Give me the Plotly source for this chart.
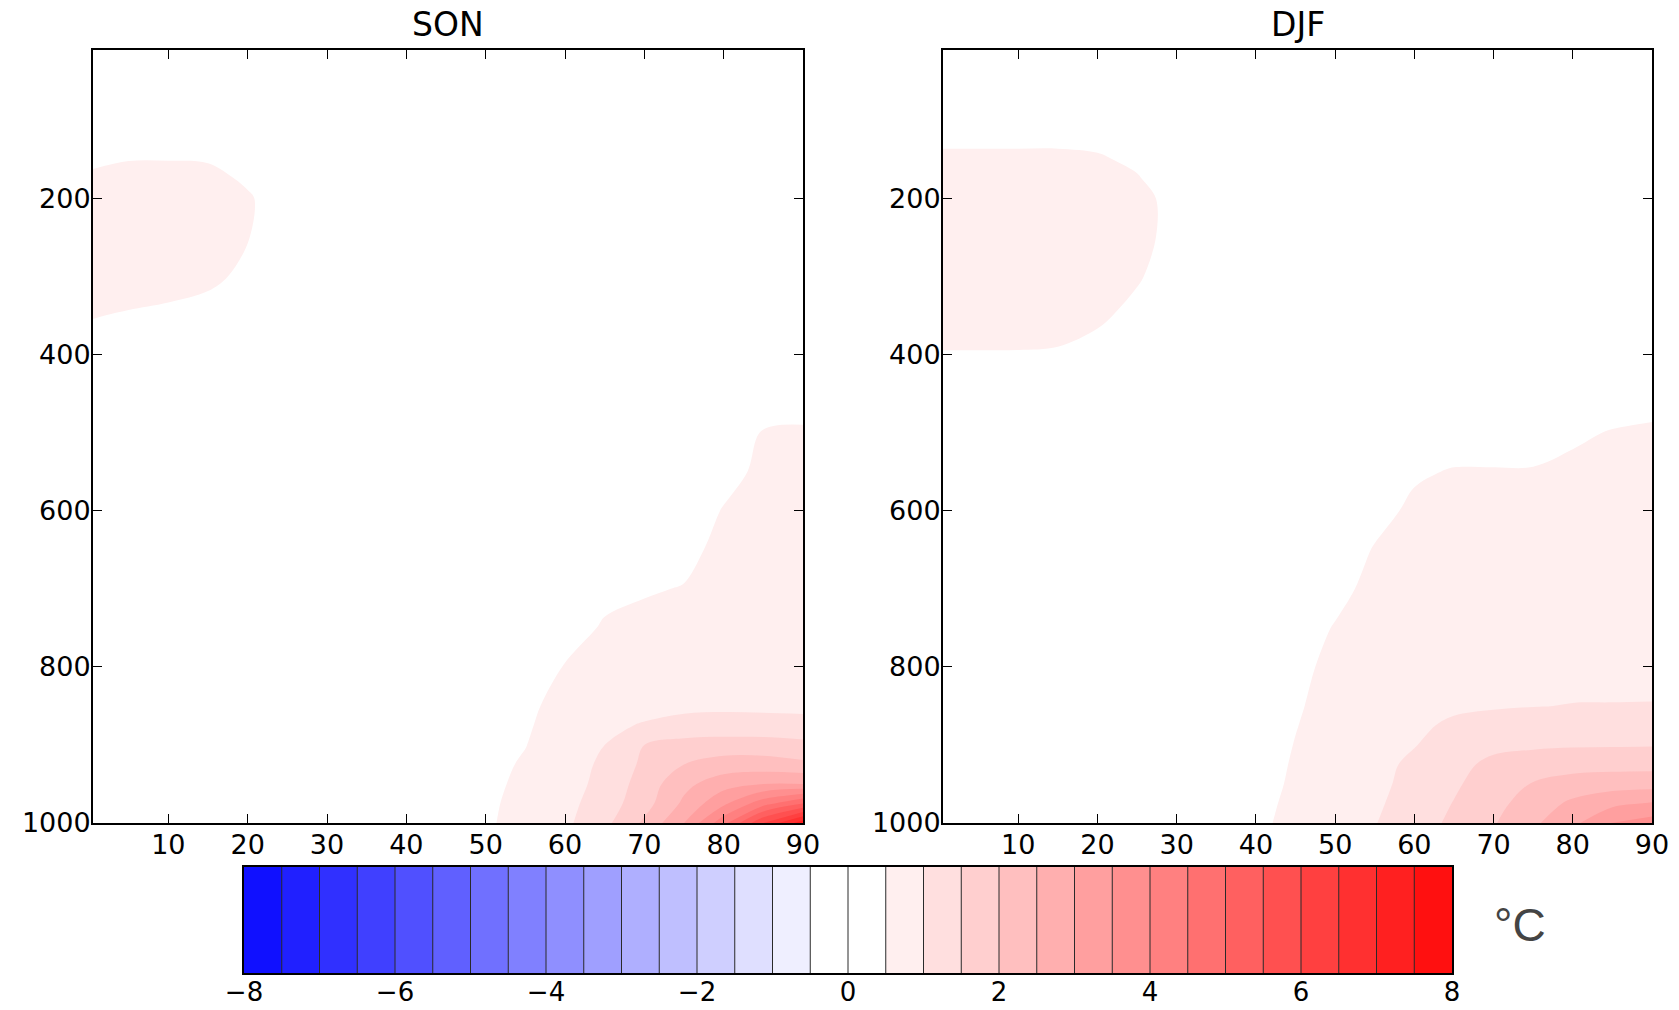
import plotly.graph_objects as go

# ---------------- data ----------------
LAT = [0.5, 5, 10, 15, 20, 25, 30, 35, 40, 45, 50, 55, 60, 65, 70, 75, 80, 85, 90]
PRES = [10, 50, 100, 125, 150, 175, 200, 250, 300, 350, 400, 450, 500, 550,
        600, 650, 700, 750, 800, 850, 875, 900, 925, 950, 975, 1000]

SON_T = [
    [0.10,0.10,0.10,0.10,0.10,0.10,0.10,0.10,0.10,0.10,0.10,0.10,0.10,0.10,0.10,0.10,0.10,0.10,0.10],
    [0.20,0.20,0.20,0.20,0.20,0.18,0.15,0.12,0.10,0.10,0.10,0.10,0.12,0.12,0.14,0.15,0.15,0.15,0.15],
    [0.30,0.30,0.32,0.30,0.28,0.25,0.20,0.15,0.12,0.10,0.10,0.12,0.14,0.15,0.16,0.18,0.20,0.20,0.20],
    [0.38,0.42,0.44,0.42,0.32,0.28,0.20,0.15,0.12,0.10,0.10,0.12,0.14,0.15,0.16,0.18,0.20,0.20,0.20],
    [0.45,0.49,0.49,0.48,0.35,0.25,0.20,0.15,0.12,0.10,0.10,0.12,0.14,0.15,0.16,0.18,0.20,0.20,0.20],
    [0.55,0.60,0.62,0.58,0.46,0.30,0.20,0.15,0.12,0.10,0.10,0.12,0.14,0.15,0.16,0.18,0.20,0.20,0.20],
    [0.60,0.65,0.68,0.64,0.53,0.35,0.20,0.15,0.12,0.10,0.10,0.12,0.14,0.15,0.16,0.18,0.20,0.22,0.22],
    [0.62,0.66,0.68,0.62,0.51,0.33,0.20,0.15,0.12,0.10,0.10,0.12,0.14,0.15,0.16,0.18,0.20,0.22,0.22],
    [0.60,0.62,0.60,0.56,0.44,0.30,0.20,0.15,0.12,0.10,0.10,0.12,0.14,0.16,0.18,0.20,0.22,0.24,0.24],
    [0.51,0.48,0.45,0.40,0.33,0.25,0.20,0.15,0.12,0.10,0.10,0.12,0.15,0.18,0.20,0.22,0.25,0.27,0.28],
    [0.40,0.38,0.35,0.32,0.28,0.22,0.18,0.14,0.12,0.10,0.10,0.12,0.16,0.20,0.22,0.25,0.28,0.32,0.33],
    [0.32,0.30,0.28,0.26,0.24,0.20,0.16,0.13,0.11,0.10,0.10,0.13,0.17,0.22,0.25,0.28,0.35,0.40,0.42],
    [0.28,0.26,0.24,0.22,0.20,0.18,0.15,0.12,0.10,0.10,0.11,0.14,0.19,0.24,0.28,0.33,0.40,0.51,0.52],
    [0.25,0.24,0.22,0.20,0.18,0.16,0.14,0.12,0.10,0.10,0.12,0.15,0.21,0.26,0.34,0.36,0.44,0.54,0.58],
    [0.22,0.21,0.20,0.18,0.16,0.15,0.13,0.12,0.11,0.12,0.14,0.18,0.25,0.35,0.38,0.40,0.51,0.60,0.65],
    [0.20,0.19,0.18,0.16,0.15,0.14,0.13,0.12,0.12,0.14,0.17,0.22,0.33,0.40,0.42,0.44,0.56,0.65,0.70],
    [0.18,0.17,0.16,0.15,0.14,0.13,0.13,0.13,0.14,0.17,0.22,0.30,0.38,0.45,0.48,0.51,0.63,0.70,0.75],
    [0.16,0.15,0.14,0.14,0.13,0.13,0.13,0.14,0.16,0.20,0.26,0.32,0.42,0.52,0.56,0.63,0.70,0.77,0.80],
    [0.15,0.14,0.14,0.13,0.13,0.13,0.14,0.16,0.19,0.23,0.28,0.37,0.51,0.65,0.70,0.78,0.82,0.84,0.85],
    [0.14,0.14,0.13,0.13,0.13,0.14,0.16,0.20,0.24,0.27,0.31,0.42,0.63,0.80,0.88,0.92,0.93,0.93,0.93],
    [0.14,0.13,0.13,0.13,0.14,0.15,0.18,0.22,0.26,0.29,0.33,0.45,0.69,0.92,1.03,1.12,1.15,1.13,1.10],
    [0.13,0.13,0.13,0.13,0.14,0.16,0.20,0.24,0.28,0.31,0.36,0.49,0.72,1.00,1.50,1.70,1.75,1.75,1.65],
    [0.13,0.13,0.13,0.14,0.15,0.17,0.21,0.25,0.30,0.33,0.39,0.54,0.75,1.10,1.60,2.00,2.20,2.20,2.10],
    [0.13,0.13,0.14,0.14,0.16,0.18,0.22,0.26,0.31,0.35,0.41,0.58,0.80,1.15,1.72,2.36,2.80,3.00,3.00],
    [0.13,0.13,0.14,0.15,0.17,0.19,0.23,0.27,0.32,0.37,0.43,0.62,0.85,1.25,1.80,2.60,3.40,4.30,5.00],
    [0.13,0.13,0.14,0.15,0.17,0.20,0.24,0.28,0.33,0.38,0.44,0.66,0.90,1.37,2.09,3.00,4.33,6.00,7.30],
]

DJF_T = [
    [0.10,0.10,0.10,0.10,0.10,0.10,0.10,0.10,0.10,0.10,0.10,0.10,0.10,0.10,0.10,0.10,0.10,0.10,0.10],
    [0.20,0.20,0.20,0.20,0.20,0.18,0.15,0.12,0.10,0.10,0.10,0.10,0.10,0.12,0.12,0.14,0.15,0.15,0.15],
    [0.35,0.35,0.35,0.35,0.33,0.30,0.25,0.20,0.16,0.14,0.12,0.10,0.10,0.12,0.14,0.15,0.16,0.18,0.20],
    [0.45,0.45,0.45,0.45,0.44,0.38,0.28,0.20,0.16,0.14,0.12,0.10,0.10,0.12,0.14,0.15,0.16,0.18,0.20],
    [0.56,0.56,0.56,0.56,0.53,0.45,0.30,0.20,0.16,0.14,0.12,0.10,0.10,0.12,0.14,0.15,0.16,0.18,0.20],
    [0.65,0.65,0.65,0.64,0.62,0.52,0.35,0.22,0.17,0.14,0.12,0.10,0.10,0.12,0.14,0.15,0.16,0.18,0.20],
    [0.70,0.70,0.70,0.68,0.66,0.59,0.40,0.24,0.18,0.14,0.12,0.10,0.10,0.12,0.14,0.15,0.16,0.18,0.20],
    [0.72,0.72,0.72,0.70,0.66,0.59,0.40,0.24,0.18,0.14,0.12,0.10,0.11,0.12,0.14,0.16,0.18,0.20,0.22],
    [0.70,0.70,0.70,0.68,0.63,0.53,0.35,0.22,0.17,0.14,0.12,0.11,0.12,0.14,0.16,0.18,0.20,0.22,0.24],
    [0.66,0.66,0.65,0.62,0.55,0.42,0.30,0.20,0.16,0.14,0.12,0.12,0.14,0.16,0.18,0.20,0.22,0.25,0.27],
    [0.48,0.48,0.48,0.47,0.40,0.33,0.25,0.18,0.16,0.14,0.13,0.14,0.16,0.20,0.24,0.26,0.28,0.30,0.32],
    [0.30,0.30,0.30,0.29,0.27,0.24,0.20,0.18,0.18,0.18,0.20,0.22,0.25,0.30,0.32,0.34,0.36,0.40,0.42],
    [0.26,0.26,0.25,0.24,0.22,0.20,0.18,0.18,0.19,0.20,0.22,0.26,0.32,0.42,0.42,0.43,0.47,0.51,0.53],
    [0.23,0.23,0.22,0.21,0.20,0.19,0.18,0.19,0.21,0.24,0.28,0.34,0.48,0.51,0.51,0.51,0.54,0.59,0.62],
    [0.21,0.21,0.20,0.19,0.18,0.18,0.19,0.20,0.23,0.27,0.32,0.45,0.53,0.57,0.58,0.59,0.63,0.67,0.70],
    [0.20,0.20,0.19,0.18,0.18,0.18,0.19,0.21,0.25,0.30,0.41,0.51,0.56,0.62,0.64,0.66,0.70,0.73,0.75],
    [0.19,0.19,0.18,0.18,0.18,0.18,0.20,0.23,0.28,0.35,0.45,0.55,0.62,0.68,0.72,0.74,0.76,0.79,0.80],
    [0.18,0.18,0.18,0.18,0.18,0.19,0.21,0.25,0.31,0.42,0.51,0.60,0.68,0.74,0.78,0.80,0.82,0.84,0.86],
    [0.18,0.18,0.18,0.18,0.18,0.19,0.22,0.27,0.32,0.45,0.55,0.65,0.74,0.80,0.84,0.86,0.88,0.90,0.92],
    [0.18,0.18,0.18,0.18,0.18,0.20,0.23,0.28,0.34,0.47,0.60,0.73,0.85,0.93,0.97,0.99,1.01,1.01,1.01],
    [0.18,0.18,0.18,0.18,0.19,0.20,0.24,0.29,0.35,0.49,0.62,0.77,0.92,1.07,1.12,1.18,1.22,1.23,1.25],
    [0.18,0.18,0.18,0.18,0.19,0.21,0.24,0.30,0.36,0.51,0.65,0.80,0.98,1.22,1.38,1.42,1.45,1.46,1.47],
    [0.18,0.18,0.18,0.19,0.19,0.21,0.25,0.30,0.37,0.53,0.67,0.85,1.10,1.35,1.62,1.75,1.82,1.83,1.84],
    [0.18,0.18,0.18,0.19,0.20,0.22,0.25,0.31,0.38,0.55,0.70,0.88,1.15,1.43,1.75,2.03,2.20,2.28,2.30],
    [0.18,0.18,0.19,0.19,0.20,0.22,0.26,0.31,0.40,0.58,0.75,0.93,1.20,1.52,1.85,2.23,2.60,2.88,3.05],
    [0.18,0.18,0.19,0.19,0.20,0.22,0.26,0.30,0.42,0.61,0.80,0.98,1.28,1.60,1.96,2.41,2.88,3.52,3.72],
]

LEVEL_START, LEVEL_END, LEVEL_STEP = -8.0, 8.0, 0.5
X_TICKS = [10, 20, 30, 40, 50, 60, 70, 80, 90]
Y_TICKS = [200, 400, 600, 800, 1000]
CBAR_TICKS = [-8, -6, -4, -2, 0, 2, 4, 6, 8]
TITLES = ["SON", "DJF"]
UNIT = "°C"

# ---------------- colours (bwr, one colour per band) ----------------
def bwr(v):
    if v < 0.5:
        r = g = 2 * v
        b = 1.0
    else:
        r = 1.0
        g = b = 2 * (1 - v)
    return "rgb({},{},{})".format(round(255 * r), round(255 * g), round(255 * b))

n_levels = int(round((LEVEL_END - LEVEL_START) / LEVEL_STEP)) + 1
levels = [LEVEL_START + i * LEVEL_STEP for i in range(n_levels)]
mids = [(levels[i] + levels[i + 1]) / 2 for i in range(n_levels - 1)]
band_colors = []
for i in range(n_levels - 1):
    lo, hi = levels[i], levels[i + 1]
    ref = lo if lo >= 0 else hi          # edge nearest zero sets the band colour
    band_colors.append(bwr((ref - LEVEL_START) / (LEVEL_END - LEVEL_START)))
colorscale = [[0.0, band_colors[0]]]
colorscale += [[(k + 1) / n_levels, c] for k, c in enumerate(band_colors)]
colorscale += [[1.0, band_colors[-1]]]

FONT = "DejaVu Sans"
TICK_SIZE = 27

fig = go.Figure()
for i, (z, name) in enumerate(zip([SON_T, DJF_T], TITLES)):
    sfx = "" if i == 0 else "2"
    fig.add_trace(go.Contour(
        x=LAT, y=PRES, z=z, name=name,
        xaxis="x" + sfx, yaxis="y" + sfx,
        autocontour=False,
        contours=dict(start=LEVEL_START, end=LEVEL_END, size=LEVEL_STEP,
                      coloring="fill", showlines=False),
        line=dict(width=0),
        colorscale=colorscale, showscale=False, hoverinfo="skip",
    ))

# colour bar drawn as a heatmap strip + divider lines
fig.add_trace(go.Heatmap(
    x=levels, y=[0, 1], z=[mids], xaxis="x3", yaxis="y3",
    colorscale=colorscale,
    zmin=LEVEL_START - LEVEL_STEP / 2, zmax=LEVEL_END + LEVEL_STEP / 2,
    showscale=False, hoverinfo="skip",
))
div_x, div_y = [], []
for l in levels[1:-1]:
    div_x += [l, l, None]
    div_y += [0, 1, None]
fig.add_trace(go.Scatter(x=div_x, y=div_y, xaxis="x3", yaxis="y3", mode="lines",
                         line=dict(color="#2a2a2a", width=1), hoverinfo="skip",
                         showlegend=False))

W, H = 1679, 1010
def px(x):
    return x / W
def py(y):
    return 1 - y / H

ax_common = dict(showline=True, linecolor="black", linewidth=2, mirror="ticks",
                 ticks="inside", ticklen=9, tickwidth=1.3, tickcolor="black",
                 showgrid=False, zeroline=False, automargin=False,
                 tickfont=dict(family=FONT, size=TICK_SIZE, color="black"))

L1 = (93, 803)
L2 = (943, 1652)
TOP, BOT = 50, 823

fig.update_layout(
    width=W, height=H,
    margin=dict(l=0, r=0, t=0, b=0, autoexpand=False),
    paper_bgcolor="white", plot_bgcolor="white",
    showlegend=False,
    xaxis=dict(domain=[px(L1[0]), px(L1[1])], range=[0.5, 90], tickvals=X_TICKS,
               anchor="y", ticklabelstandoff=-3, **ax_common),
    yaxis=dict(domain=[py(BOT), py(TOP)], range=[1000, 10], tickvals=Y_TICKS,
               anchor="x", ticklabelstandoff=-5, **ax_common),
    xaxis2=dict(domain=[px(L2[0]), px(L2[1])], range=[0.5, 90], tickvals=X_TICKS,
                anchor="y2", ticklabelstandoff=-3, **ax_common),
    yaxis2=dict(domain=[py(BOT), py(TOP)], range=[1000, 10], tickvals=Y_TICKS,
                anchor="x2", ticklabelstandoff=-5, **ax_common),
    xaxis3=dict(domain=[px(244), px(1452)], range=[LEVEL_START, LEVEL_END],
                tickvals=CBAR_TICKS, ticks="", showline=True, mirror=True,
                linecolor="black", linewidth=1.5, showgrid=False, zeroline=False,
                automargin=False, anchor="y3", ticklabelstandoff=-5,
                tickfont=dict(family=FONT, size=26, color="black")),
    yaxis3=dict(domain=[py(973), py(867)], range=[0, 1], showticklabels=False,
                ticks="", showline=True, mirror=True, linecolor="black",
                linewidth=1.5, showgrid=False, zeroline=False, automargin=False,
                anchor="x3"),
)

annotations = []
for (a, b), t in zip([L1, L2], TITLES):
    annotations.append(dict(text=t, x=px((a + b) / 2), y=py(24), xref="paper", yref="paper",
                            xanchor="center", yanchor="middle", showarrow=False,
                            font=dict(family=FONT, size=33, color="black")))
annotations.append(dict(text=UNIT, x=px(1492), y=py(925), xref="paper", yref="paper",
                        xanchor="left", yanchor="middle", showarrow=False,
                        font=dict(family="Liberation Sans", size=46, color="#444444")))
fig.update_layout(annotations=annotations)

fig.write_html("out.html")
